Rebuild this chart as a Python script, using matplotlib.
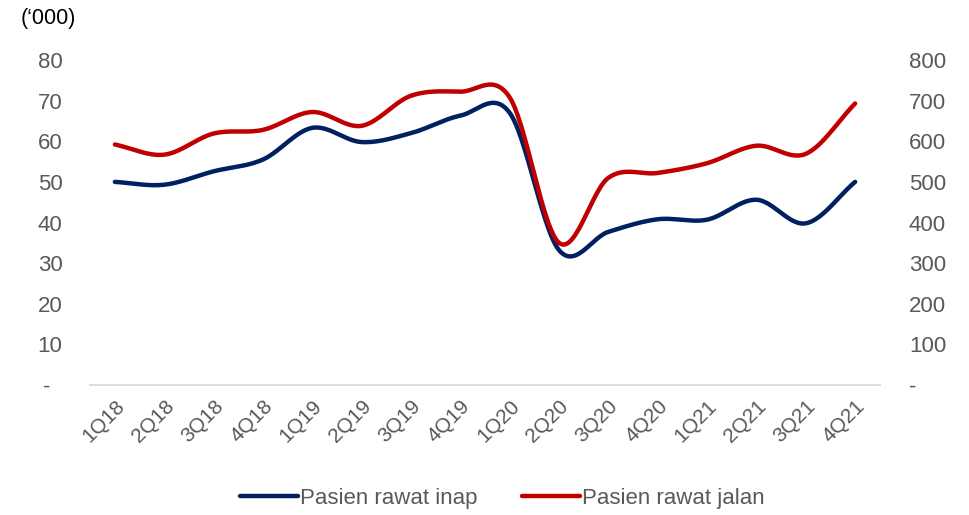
import numpy as np
import matplotlib
matplotlib.use("Agg")
import matplotlib.pyplot as plt
from matplotlib.ticker import FixedLocator, FixedFormatter

categories = ["1Q18", "2Q18", "3Q18", "4Q18", "1Q19", "2Q19", "3Q19", "4Q19",
              "1Q20", "2Q20", "3Q20", "4Q20", "1Q21", "2Q21", "3Q21", "4Q21"]
rawat_inap = [50, 49.3, 52.6, 55.5, 63.3, 59.8, 62, 66.3, 67.0, 33.2, 37.7, 40.8, 40.7, 45.6, 39.8, 50]
rawat_jalan = [592, 567, 619, 628, 672, 638, 712, 722, 708, 350, 510, 522, 546, 589, 569, 693]
left_ticks = [0, 10, 20, 30, 40, 50, 60, 70, 80]
left_labels = ["-  ", "10", "20", "30", "40", "50", "60", "70", "80"]
right_ticks = [0, 100, 200, 300, 400, 500, 600, 700, 800]
right_labels = ["-", "100", "200", "300", "400", "500", "600", "700", "800"]

plt.rcParams['font.family'] = ['Liberation Sans', 'DejaVu Sans']
GRAY = "#595959"
BLUE = "#002060"
RED = "#C00000"


def smooth(x, y, n=30):
    x = np.asarray(x, float)
    y = np.asarray(y, float)
    px = np.concatenate([[2 * x[0] - x[1]], x, [2 * x[-1] - x[-2]]])
    py = np.concatenate([[2 * y[0] - y[1]], y, [2 * y[-1] - y[-2]]])
    xs, ys = [], []
    t = np.linspace(0, 1, n, endpoint=False)
    for i in range(1, len(px) - 2):
        p0x, p1x, p2x, p3x = px[i - 1:i + 3]
        p0y, p1y, p2y, p3y = py[i - 1:i + 3]
        c1x = p1x + (p2x - p0x) / 6
        c1y = p1y + (p2y - p0y) / 6
        c2x = p2x - (p3x - p1x) / 6
        c2y = p2y - (p3y - p1y) / 6
        bx = (1 - t) ** 3 * p1x + 3 * (1 - t) ** 2 * t * c1x + 3 * (1 - t) * t ** 2 * c2x + t ** 3 * p2x
        by = (1 - t) ** 3 * p1y + 3 * (1 - t) ** 2 * t * c1y + 3 * (1 - t) * t ** 2 * c2y + t ** 3 * p2y
        xs.append(bx)
        ys.append(by)
    xs.append([x[-1]])
    ys.append([y[-1]])
    return np.concatenate(xs), np.concatenate(ys)


fig = plt.figure(figsize=(9.7, 5.15), dpi=100)
ax = fig.add_axes([0.093, 0.2524, 0.814, 0.6311])
ax2 = ax.twinx()

x = np.arange(len(categories))
sx, sy = smooth(x, rawat_inap)
l1, = ax.plot(sx, sy, color=BLUE, lw=3.2, solid_capstyle='round', label="Pasien rawat inap")
sx2, sy2 = smooth(x, rawat_jalan)
l2, = ax2.plot(sx2, sy2, color=RED, lw=3.2, solid_capstyle='round', label="Pasien rawat jalan")

ax.set_xlim(-0.5, len(categories) - 0.5)
ax.set_ylim(0, 80)
ax2.set_ylim(0, 800)

ax.yaxis.set_major_locator(FixedLocator(left_ticks))
ax.yaxis.set_major_formatter(FixedFormatter(left_labels))
ax2.yaxis.set_major_locator(FixedLocator(right_ticks))
ax2.yaxis.set_major_formatter(FixedFormatter(right_labels))

ax.set_xticks(x)
ax.set_xticklabels(categories, rotation=45, ha='right', rotation_mode='anchor')

for a in (ax, ax2):
    for s in a.spines.values():
        s.set_visible(False)
    a.tick_params(length=0, labelsize=16, labelcolor=GRAY)
ax.tick_params(axis='x', labelsize=15, pad=8)
ax.spines['bottom'].set_visible(True)
ax.spines['bottom'].set_color("#D9D9D9")
ax.spines['bottom'].set_linewidth(1.3)
ax.tick_params(axis='y', pad=20)
ax2.tick_params(axis='y', pad=21)

fig.text(0.021, 0.965, "(\u2018000)", fontsize=15.5, color="#000000", va='center', ha='left')

fig.legend(handles=[l1, l2], loc='center', bbox_to_anchor=(0.518, 0.032), ncol=2,
           frameon=False, fontsize=16, handlelength=2.6, handletextpad=0.1,
           columnspacing=2.0, labelcolor=GRAY)

fig.savefig("out.png", dpi=100)
